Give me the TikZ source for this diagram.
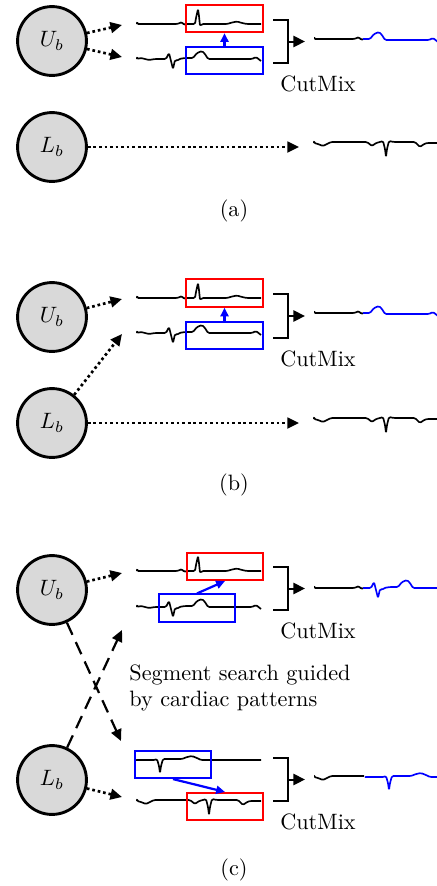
\documentclass[tikz,border=0pt]{standalone}
\usetikzlibrary{arrows.meta}

\newcommand{\ecg}[4][]{\draw[sig,#1,shift={(#2,#3)}] (0,0) \foreach \px/\py in #4 {-- (\px,\py)};}

\begin{document}
\begin{tikzpicture}[x=0.45pt, y=-0.45pt,
	agent/.style={circle, draw, line width=1.3pt, fill=black!15, minimum size=31pt, inner sep=0pt},
	redbox/.style={draw=red, line width=0.9pt, minimum width=34.6pt, minimum height=12.2pt, inner sep=0pt},
	bluebox/.style={draw=blue, line width=0.9pt, minimum width=34.6pt, minimum height=12.2pt, inner sep=0pt},
	sig/.style={line width=0.75pt, line join=round, rounded corners=0.6pt},
	dotarr/.style={line width=1.2pt, dash pattern=on 1.2pt off 1.3pt, -{Triangle[length=5.2pt, width=4.8pt]}},
	dasharr/.style={line width=1pt, dash pattern=on 6pt off 3.6pt, -{Triangle[length=5.2pt, width=4.8pt]}},
	pick/.style={blue, line width=1pt, -{Triangle[length=4pt, width=3.6pt]}},
	brk/.style={line width=0.9pt},
	mixarr/.style={line width=0.9pt, -{Triangle[length=5.2pt, width=5pt]}}]
\useasboundingbox (0,0) rectangle (437,886);
\def\beatR{0/0, 40/0, 43/-1, 45/-2, 47/1, 49/0, 58/0, 59/-6, 61/-15, 62/-8, 63/2, 65/0, 90/0, 95/-1.5, 100/-2.5, 105/-1, 110/0, 124/0}
\def\beatQ{0/0, 4/-1, 8/0, 12/1, 18/0, 29/0, 32/-6, 36/10, 38/1, 40/2, 42/0, 48/-1, 56/-1, 60/-6, 65/-8, 68/-5, 71/0, 90/0, 115/0, 119/-2, 124/2}
\def\beatS{0/0, 4/1, 9/3, 13/1, 17/-1, 53/-1, 58/3, 62/0, 66/-1, 69/-2, 71/6, 72/14, 73/6, 75/-2, 80/-1, 101/-1, 103/1, 106/4, 110/1, 113/0, 124/0}
\def\beatT{-2/0, 18/0, 20/-1, 22/6, 23/13, 24/6, 26/-1, 45/-1, 50/-3, 55/-4, 60/-2, 64/0, 124/0}

% (a)
\node[agent] (Ua) at (52,41) {$U_b$};
\node[agent] (La) at (52,147) {$L_b$};
\coordinate (ua1) at (122,25);
\coordinate (ua2) at (122,57);
\coordinate (la1) at (299,147);
\draw[dotarr] (Ua) -- (ua1);
\draw[dotarr] (Ua) -- (ua2);
\draw[dotarr] (La) -- (la1);
\ecg{137}{24}{\beatR}
\ecg{137}{59}{\beatQ}
\node[redbox] (ra) at (224.5,18.5) {};
\node[bluebox] (ba) at (224.5,60.5) {};
\draw[pick] (ba.north) -- (ra.south);
\begin{scope}
	\clip (314,0) rectangle (363,80);
	\ecg{314}{39}{\beatR}
\end{scope}
\begin{scope}
	\clip (363,0) rectangle (437,80);
	\ecg[blue]{314}{40}{\beatQ}
\end{scope}
\ecg{314}{143}{\beatS}
\node (capa) at (234,211) {(a)};

% (b)
\node[agent] (Ub) at (52,317) {$U_b$};
\node[agent] (Lb) at (52,423) {$L_b$};
\coordinate (ub1) at (122,299);
\coordinate (lb1) at (122,334);
\coordinate (lb2) at (299,423);
\draw[dotarr] (Ub) -- (ub1);
\draw[dotarr] (Lb) -- (lb1);
\draw[dotarr] (Lb) -- (lb2);
\ecg{137}{298}{\beatR}
\ecg{137}{333}{\beatQ}
\node[redbox] (rb) at (224.5,293) {};
\node[bluebox] (bb) at (224.5,335.5) {};
\draw[pick] (bb.north) -- (rb.south);
\begin{scope}
	\clip (314,270) rectangle (363,360);
	\ecg{314}{313}{\beatR}
\end{scope}
\begin{scope}
	\clip (363,270) rectangle (437,360);
	\ecg[blue]{314}{314}{\beatQ}
\end{scope}
\ecg{314}{419}{\beatS}
\node (capb) at (234,485) {(b)};

% (c)
\node[agent] (Uc) at (52,590) {$U_b$};
\node[agent] (Lc) at (52,780) {$L_b$};
\coordinate (uc1) at (122,573);
\coordinate (uc2) at (121,741);
\coordinate (lc1) at (122,630);
\coordinate (lc2) at (122,797);
\draw[dotarr] (Uc) -- (uc1);
\draw[dasharr] (Uc) -- (uc2);
\draw[dasharr] (Lc) -- (lc1);
\draw[dotarr] (Lc) -- (lc2);
\ecg{137}{571}{\beatR}
\ecg{137}{607}{\beatQ}
\node[redbox] (rc) at (225,566.5) {};
\node[bluebox] (bc) at (197,608) {};
\draw[pick] (bc.north) -- (rc.south);
\ecg{137}{760}{\beatT}
\ecg{137}{801}{\beatS}
\node[bluebox] (bd) at (173,764.5) {};
\node[redbox] (rd) at (225,806.5) {};
\draw[pick] (bd.south) -- (rd.north);
\begin{scope}
	\clip (314,540) rectangle (363,640);
	\ecg{314}{588}{\beatR}
\end{scope}
\begin{scope}
	\clip (363,540) rectangle (437,640);
	\ecg[blue]{342}{588}{\beatQ}
\end{scope}
\begin{scope}
	\clip (314,740) rectangle (364,820);
	\ecg{314}{777}{\beatS}
\end{scope}
\begin{scope}
	\clip (364,740) rectangle (437,820);
	\ecg[blue]{366}{777}{\beatT}
\end{scope}
\node[anchor=west, align=left, inner sep=0pt] (seg) at (129,688) {Segment search guided\\by cardiac patterns};
\node (capc) at (234,870) {(c)};

\foreach \yt/\yb/\nm in {20/63/a, 294/338/b, 567/610/c, 758/801/d} {
	\pgfmathsetmacro{\ym}{(\yt+\yb)/2}
	\draw[brk] (273,\yt) -| (288,\yb) -- (273,\yb);
	\coordinate (bm\nm) at (288,\ym);
	\coordinate (bo\nm) at (305,\ym);
	\draw[mixarr] (bm\nm) -- (bo\nm);
	\node (cut\nm) at (318,\yb+21) {CutMix};
}
\end{tikzpicture}
\end{document}
